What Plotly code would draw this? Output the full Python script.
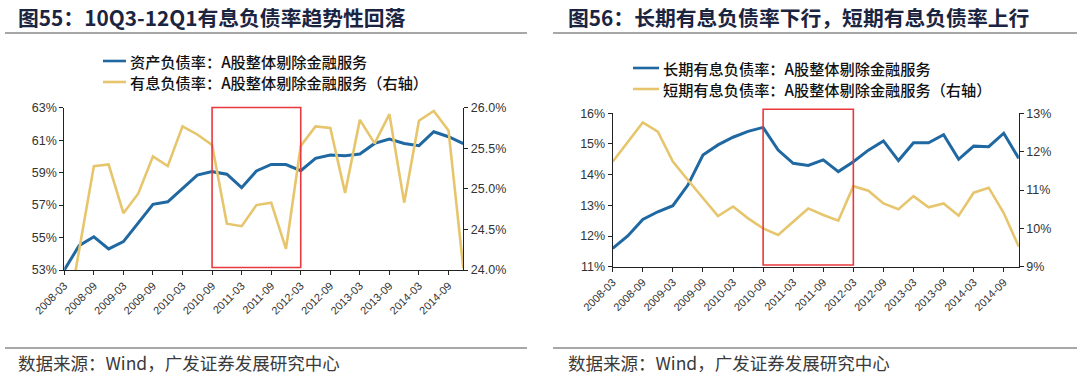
import plotly.graph_objects as go

W, H = 1080, 374

quarters = ["2008-03", "2008-06", "2008-09", "2008-12", "2009-03", "2009-06", "2009-09", "2009-12",
            "2010-03", "2010-06", "2010-09", "2010-12", "2011-03", "2011-06", "2011-09", "2011-12",
            "2012-03", "2012-06", "2012-09", "2012-12", "2013-03", "2013-06", "2013-09", "2013-12",
            "2014-03", "2014-06", "2014-09", "2014-12"]
tick_labels = quarters[::2]

# Fig 55
asset_liab = [53.0, 54.5, 55.05, 54.3, 54.75, 55.9, 57.05, 57.2, 58.0, 58.85, 59.06, 58.9, 58.07, 59.1,
              59.5, 59.5, 59.12, 59.88, 60.08, 60.04, 60.15, 60.8, 61.07, 60.8, 60.66, 61.52, 61.21, 60.78]
interest_liab = [23.2, 24.23, 25.28, 25.3, 24.7, 24.94, 25.4, 25.28, 25.77, 25.67, 25.54, 24.57, 24.54, 24.8,
                 24.83, 24.26, 25.53, 25.77, 25.75, 24.95, 25.85, 25.56, 25.92, 24.83, 25.84, 25.96, 25.72, 24.02]

# Fig 56
long_term = [11.6, 12.0, 12.54, 12.79, 12.99, 13.66, 14.64, 14.97, 15.22, 15.41, 15.54, 14.8, 14.37, 14.3,
             14.48, 14.1, 14.42, 14.8, 15.1, 14.46, 15.04, 15.04, 15.3, 14.5, 14.93, 14.91, 15.35, 14.53]
short_term = [11.74, 12.26, 12.76, 12.52, 11.74, 11.26, 10.78, 10.32, 10.57, 10.26, 10.0, 9.83, 10.17, 10.52,
              10.35, 10.2, 11.1, 10.98, 10.65, 10.5, 10.84, 10.55, 10.65, 10.33, 10.93, 11.06, 10.4, 9.52]

left_ticks = [53, 55, 57, 59, 61, 63]
left_ticks_r = [24.0, 24.5, 25.0, 25.5, 26.0]
right_ticks = [11, 12, 13, 14, 15, 16]
right_ticks_r = [9, 10, 11, 12, 13]

titles = ["图55：10Q3-12Q1有息负债率趋势性回落", "图56：长期有息负债率下行，短期有息负债率上行"]
legend_left = ["资产负债率：A股整体剔除金融服务", "有息负债率：A股整体剔除金融服务（右轴）"]
legend_right = ["长期有息负债率：A股整体剔除金融服务", "短期有息负债率：A股整体剔除金融服务（右轴）"]
source_text = "数据来源：Wind，广发证券发展研究中心"
highlight = ("2010-09", "2012-03")

BLUE = "#1F68A2"
GOLD = "#E6C56C"
RED = "#E8383D"
AX = "#222222"
TXT = "#333333"
CJK = "Noto Sans CJK SC"
LAT = "Liberation Sans, Arial, sans-serif"


def px(x):
    return x / W


def py(y):
    return 1 - y / H


fig = go.Figure()
fig.add_trace(go.Scatter(x=quarters, y=asset_liab, mode="lines", line=dict(color=BLUE, width=3),
                         xaxis="x", yaxis="y", showlegend=False))
fig.add_trace(go.Scatter(x=quarters, y=interest_liab, mode="lines", line=dict(color=GOLD, width=2.6),
                         xaxis="x", yaxis="y2", showlegend=False))
fig.add_trace(go.Scatter(x=quarters, y=long_term, mode="lines", line=dict(color=BLUE, width=3),
                         xaxis="x2", yaxis="y3", showlegend=False))
fig.add_trace(go.Scatter(x=quarters, y=short_term, mode="lines", line=dict(color=GOLD, width=2.6),
                         xaxis="x2", yaxis="y4", showlegend=False))

xcommon = dict(type="category", categoryorder="array", categoryarray=quarters,
               range=[0, len(quarters) - 1], tickmode="array", tickvals=tick_labels, ticktext=tick_labels,
               tickangle=-45, ticks="outside", ticklen=4, tickcolor=AX, showline=True, linecolor=AX,
               linewidth=1, showgrid=False, zeroline=False, automargin=False,
               tickfont=dict(family=LAT, size=11, color=TXT))
ycommon = dict(ticks="outside", ticklen=4, tickcolor=AX, showline=True, linecolor=AX, linewidth=1,
               showgrid=False, zeroline=False, automargin=False, tickmode="array",
               tickfont=dict(family=LAT, size=12.5, color=TXT))

fig.update_layout(
    template="none",
    width=W, height=H, margin=dict(l=0, r=0, t=0, b=0, autoexpand=False),
    paper_bgcolor="white", plot_bgcolor="white",
    xaxis=dict(domain=[px(64.3), px(463.3)], anchor="y", **xcommon),
    yaxis=dict(domain=[py(270), py(107.7)], anchor="x", range=[53, 63], tickvals=left_ticks,
               ticktext=[f"{v}%" for v in left_ticks], **ycommon),
    yaxis2=dict(anchor="x", overlaying="y", side="right", range=[24, 26], tickvals=left_ticks_r,
                ticktext=[f"{v:.1f}%" for v in left_ticks_r], **ycommon),
    xaxis2=dict(domain=[px(612.7), px(1018.8)], anchor="y3", **xcommon),
    yaxis3=dict(domain=[py(266.7), py(113.3)], anchor="x2", range=[11, 16], tickvals=right_ticks,
                ticktext=[f"{v}%" for v in right_ticks], **ycommon),
    yaxis4=dict(anchor="x2", overlaying="y3", side="right", range=[9, 13], tickvals=right_ticks_r,
                ticktext=[f"{v}%" for v in right_ticks_r], **ycommon),
)

shapes = []
annotations = []

# highlight boxes
i0, i1 = quarters.index(highlight[0]), quarters.index(highlight[1])
shapes.append(dict(type="rect", xref="x", yref="paper", x0=i0, x1=i1, y0=py(267.5), y1=py(107.5),
                   line=dict(color=RED, width=1.6), fillcolor="rgba(0,0,0,0)"))
shapes.append(dict(type="rect", xref="x2", yref="paper", x0=i0, x1=i1, y0=py(265), y1=py(109.3),
                   line=dict(color=RED, width=1.6), fillcolor="rgba(0,0,0,0)"))

# titles and rules
for (tx, rx0, rx1, title) in [(16, 5, 527, titles[0]), (566, 553, 1077, titles[1])]:
    annotations.append(dict(text="<b>" + title + "</b>", xref="paper", yref="paper", x=px(tx), y=py(17.5),
                            xanchor="left", yanchor="middle", showarrow=False,
                            font=dict(family=CJK, size=20.8, color="#1B2440")))
    shapes.append(dict(type="line", xref="paper", yref="paper", x0=px(rx0), x1=px(rx1), y0=py(33), y1=py(33),
                       line=dict(color="#8A8A8A", width=1.5)))
    shapes.append(dict(type="line", xref="paper", yref="paper", x0=px(rx0), x1=px(rx1), y0=py(348),
                       y1=py(348), line=dict(color="#8A8A8A", width=1.5)))
    annotations.append(dict(text=source_text, xref="paper", yref="paper", x=px(tx), y=py(362.5),
                            xanchor="left", yanchor="middle", showarrow=False,
                            font=dict(family=CJK, size=17.5, color="#3A3A3A")))

# legends
for (lx0, lx1, ys, labels) in [(103, 126, (61, 82), legend_left), (633, 659, (68, 89), legend_right)]:
    for (yy, lab, col) in zip(ys, labels, (BLUE, GOLD)):
        shapes.append(dict(type="line", xref="paper", yref="paper", x0=px(lx0), x1=px(lx1), y0=py(yy),
                           y1=py(yy), line=dict(color=col, width=2.6)))
        annotations.append(dict(text=lab, xref="paper", yref="paper", x=px(lx1 + 2), y=py(yy),
                                xanchor="left", yanchor="middle", showarrow=False,
                                font=dict(family=CJK, size=15.2, color="#111111", weight=500)))

fig.update_layout(shapes=shapes, annotations=annotations)
fig.write_html("out.html", config={"displayModeBar": False, "staticPlot": True},
               post_script="document.body.style.margin='0px';")
